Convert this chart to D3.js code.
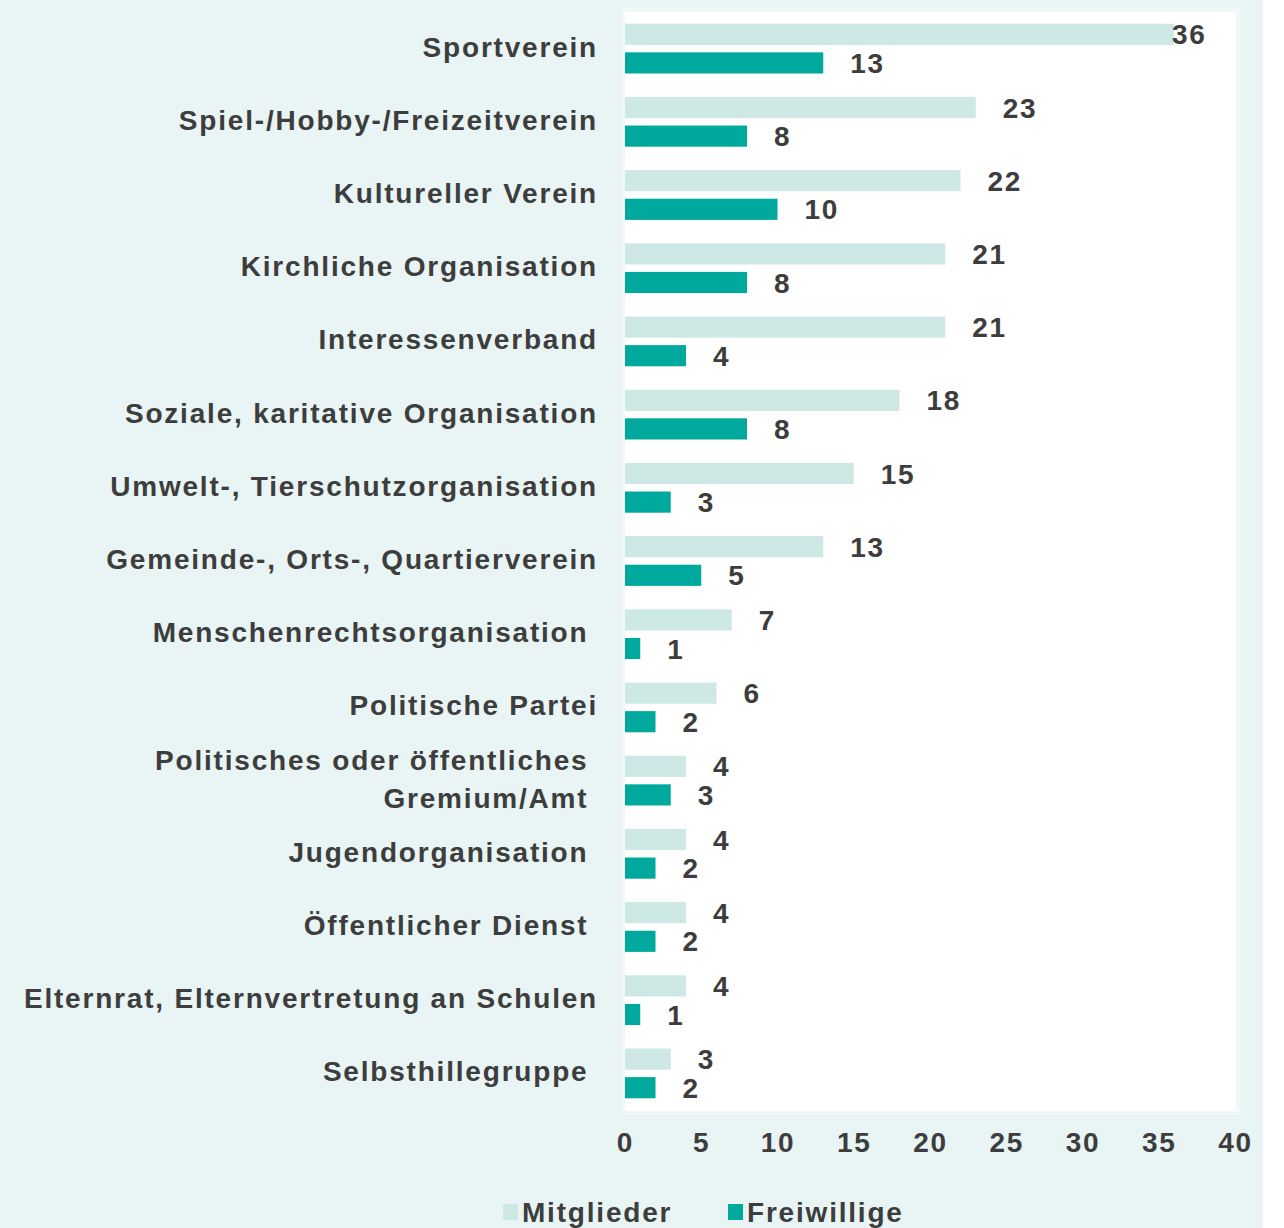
<!DOCTYPE html>
<html>
<head>
<meta charset="utf-8">
<script src="https://cdn.jsdelivr.net/npm/d3@7"></script>
<style>
  body { margin: 0; background: #fff; }
  text { font-family: 'Liberation Sans', Arial, sans-serif; }
</style>
</head>
<body>
<div id="chart"></div>
<script>
// categories, top to bottom (trailing nbsp kept as in the original labels)
const categories = [
  'Sportverein',
  'Spiel-/Hobby-/Freizeitverein',
  'Kultureller Verein',
  'Kirchliche Organisation',
  'Interessenverband',
  'Soziale, karitative Organisation',
  'Umwelt-, Tierschutzorganisation',
  'Gemeinde-, Orts-, Quartierverein',
  'Menschenrechtsorganisation\u00a0',
  'Politische Partei',
  'Politisches oder öffentliches\u00a0|Gremium/Amt\u00a0',
  'Jugendorganisation\u00a0',
  'Öffentlicher Dienst\u00a0',
  'Elternrat, Elternvertretung an Schulen',
  'Selbsthillegruppe\u00a0'
]
const mitglieder = [36, 23, 22, 21, 21, 18, 15, 13, 7, 6, 4, 4, 4, 4, 3]
const freiwillige = [13, 8, 10, 8, 4, 8, 3, 5, 1, 2, 3, 2, 2, 1, 2]
const seriesNames = ['Mitglieder', 'Freiwillige']
const xTicks = [0, 5, 10, 15, 20, 25, 30, 35, 40]

const colors = { Mitglieder: '#cde8e5', Freiwillige: '#00a99d' }
const textColor = '#3d3d3d'
const fontSize = 28
const spacing = '1.8px'

const W = 1284
const H = 1228
const plot = { left: 621, right: 1240, top: 8, bottom: 1115 }

const svg = d3.select('#chart').append('svg')
  .attr('width', W)
  .attr('height', H)

svg.append('rect') // mint background
  .attr('width', 1263)
  .attr('height', H)
  .attr('fill', '#e8f5f4')

svg.append('rect') // plot area
  .attr('x', plot.left + 2)
  .attr('y', plot.top + 2)
  .attr('width', plot.right - plot.left - 4)
  .attr('height', plot.bottom - plot.top - 4)
  .attr('fill', '#fff')
  .attr('stroke', '#f1f9f8')
  .attr('stroke-width', 4)

const rows = categories.map((c, i) => ({
  key: c,
  values: [
    { series: 'Mitglieder', value: mitglieder[i] },
    { series: 'Freiwillige', value: freiwillige[i] }
  ]
}))

const x = d3.scaleLinear()
  .domain([0, 40])
  .range([625, 1235])

const y0 = d3.scaleBand()
  .domain(categories)
  .range([12, 1110])
  .paddingInner(0.32)
  .paddingOuter(0.16)

const y1 = d3.scaleBand()
  .domain(seriesNames)
  .range([0, y0.bandwidth()])
  .paddingInner(0.26)

const g = svg.append('g')

const groups = g.selectAll('.group')
  .data(rows)
  .enter().append('g')
  .attr('class', 'group')
  .attr('transform', d => `translate(0, ${y0(d.key)})`)

groups.selectAll('rect')
  .data(d => d.values)
  .enter().append('rect')
  .attr('x', x(0))
  .attr('y', d => y1(d.series))
  .attr('width', d => x(d.value) - x(0))
  .attr('height', y1.bandwidth())
  .attr('fill', d => colors[d.series])

// value labels, pulled back inside the plot when they would run past it
groups.selectAll('.val')
  .data(d => d.values)
  .enter().append('text')
  .attr('class', 'val')
  .attr('x', d => Math.min(x(d.value) + 27, plot.right - 68))
  .attr('y', d => y1(d.series) + y1.bandwidth() / 2)
  .attr('dy', '0.36em')
  .attr('font-size', fontSize)
  .attr('font-weight', 'bold')
  .attr('letter-spacing', spacing)
  .attr('fill', textColor)
  .text(d => d.value)

// category labels
const yAxis = d3.axisLeft(y0).tickSize(0).tickPadding(0)
const yg = svg.append('g')
  .attr('transform', 'translate(598, 0)')
  .call(yAxis)
yg.select('.domain').remove()
yg.selectAll('.tick text').remove()
yg.selectAll('.tick').each(function (d) {
  const lines = d.split('|')
  const t = d3.select(this).append('text')
    .attr('text-anchor', 'end')
    .attr('font-size', fontSize)
    .attr('font-weight', 'bold')
    .attr('letter-spacing', spacing)
    .attr('fill', textColor)
    .attr('y', -2)
  lines.forEach((l, i) => {
    t.append('tspan')
      .attr('x', 0)
      .attr('dy', i === 0 ? `${0.36 - (lines.length - 1) * 0.68}em` : '1.36em')
      .text(l)
  })
})

// x axis labels only
const xAxis = d3.axisBottom(x).tickValues(xTicks).tickSize(0).tickPadding(0)
const xg = svg.append('g')
  .attr('transform', 'translate(0, 1132)')
  .call(xAxis)
xg.select('.domain').remove()
xg.selectAll('text')
  .attr('font-size', fontSize)
  .attr('font-weight', 'bold')
  .attr('letter-spacing', spacing)
  .attr('fill', textColor)
  .attr('font-family', null)

// legend
const legend = svg.append('g')
  .attr('transform', 'translate(503, 1204)')
const legendX = d3.scaleOrdinal().domain(seriesNames).range([0, 225])
const items = legend.selectAll('.item')
  .data(seriesNames)
  .enter().append('g')
  .attr('class', 'item')
  .attr('transform', d => `translate(${legendX(d)}, 0)`)
items.append('rect')
  .attr('width', 15)
  .attr('height', 16)
  .attr('fill', d => colors[d])
items.append('text')
  .attr('x', 19)
  .attr('y', 18)
  .attr('font-size', fontSize)
  .attr('font-weight', 'bold')
  .attr('letter-spacing', spacing)
  .attr('fill', textColor)
  .text(d => d)
</script>
</body>
</html>
